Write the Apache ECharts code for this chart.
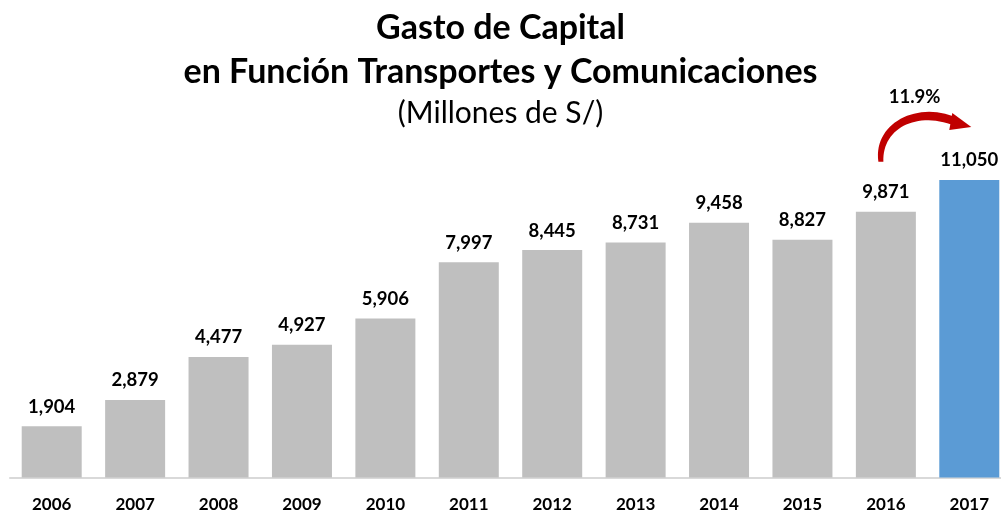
<!DOCTYPE html>
<html><head><meta charset="utf-8">
<script src="https://cdn.jsdelivr.net/npm/echarts@6/dist/echarts.min.js"></script>
<style>html,body{margin:0;padding:0;background:#fff}#c{width:1001px;height:512px}</style>
</head><body><div id="c"></div>
<script>
const years = ['2006','2007','2008','2009','2010','2011','2012','2013','2014','2015','2016','2017'];
const values = [1904,2879,4477,4927,5906,7997,8445,8731,9458,8827,9871,11050];
const growthLabel = '11.9%';
const FONT = 'Lato';

const chart = echarts.init(document.getElementById('c'));
const data = values.map((v,i)=>({value:v,itemStyle:{color: i===values.length-1 ? '#5b9bd5' : '#bfbfbf'}}));
chart.setOption({
  animation:false,
  title:[
    {text:'Gasto de Capital',left:'center',top:6,textStyle:{fontFamily:FONT,fontWeight:'bold',fontSize:34,color:'#000'}},
    {text:'en Función Transportes y Comunicaciones',left:'center',top:50,textStyle:{fontFamily:FONT,fontWeight:'bold',fontSize:34,color:'#000'}},
    {text:'(Millones de S/)',left:'center',top:93,textStyle:{fontFamily:FONT,fontWeight:'normal',fontSize:30,color:'#000'}}
  ],
  grid:{left:10,right:-10,top:154.4,bottom:34.5,outerBoundsMode:'none',containLabel:false},
  xAxis:{type:'category',data:years,axisTick:{show:false},
    axisLine:{lineStyle:{color:'#d9d9d9',width:2}},
    axisLabel:{fontFamily:FONT,fontWeight:'bold',fontSize:17,color:'#000',margin:19}},
  yAxis:{type:'value',min:0,max:12000,show:false,splitLine:{show:false}},
  series:[{type:'bar',data:data,barWidth:60,
    label:{show:true,position:'top',distance:10,fontFamily:FONT,fontWeight:'bold',fontSize:18.5,color:'#000',
      formatter:p=>p.value.toLocaleString('en-US')}}]
});

const n = values.length;
const p1 = chart.convertToPixel({seriesIndex:0},[n-2, values[n-2]]);
const p2 = chart.convertToPixel({seriesIndex:0},[n-1, values[n-1]]);
const sx = p1[0]-5, sy = p1[1]-50;          // arrow tail
const hx = p2[0]-12, hy = p2[1]-58;         // where shaft meets head
function bez(a,b,c,d,steps){
  const pts=[];
  for(let i=0;i<=steps;i++){const t=i/steps,u=1-t;
    pts.push([u*u*u*a[0]+3*u*u*t*b[0]+3*u*t*t*c[0]+t*t*t*d[0],
              u*u*u*a[1]+3*u*u*t*b[1]+3*u*t*t*c[1]+t*t*t*d[1]]);}
  return pts;
}
const outer = bez([sx-2.5,sy],[sx-8,sy-38],[sx+36,hy-22],[hx,hy-4],30);
const inner = bez([hx-2,hy+4],[sx+34,hy-12],[sx+1,sy-32],[sx+2.5,sy],30);
const shaft = outer.concat(inner);
const head = [[hx-5,hy-9],[p2[0]+2,hy+5],[hx-8,hy+8]];
chart.setOption({graphic:[
  {type:'polygon',shape:{points:shaft},style:{fill:'#c00000'}},
  {type:'polygon',shape:{points:head},style:{fill:'#c00000'}},
  {type:'text',style:{text:growthLabel,x:(p1[0]+p2[0])/2-13,y:sy-65,textAlign:'center',textVerticalAlign:'middle',fontFamily:FONT,fontWeight:'bold',fontSize:18.5,fill:'#000'}}
]});
</script></body></html>
